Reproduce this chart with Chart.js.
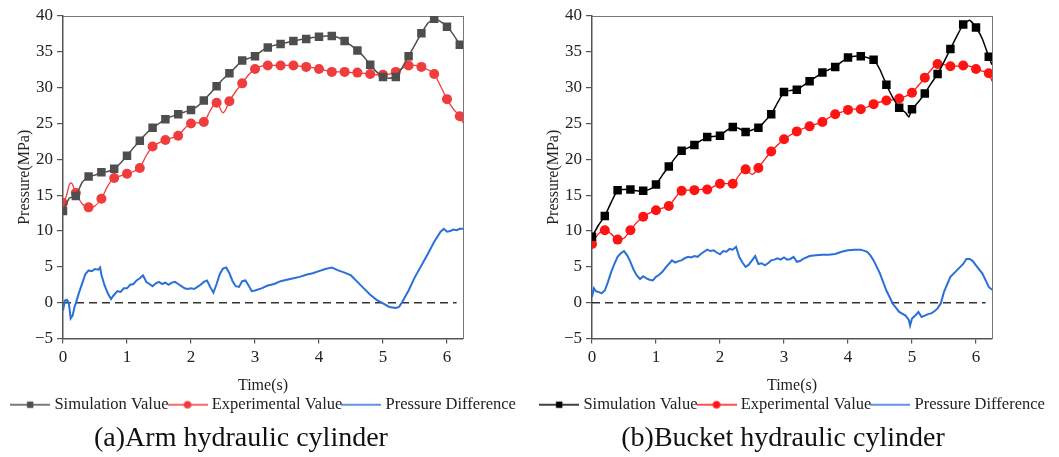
<!DOCTYPE html>
<html><head><meta charset="utf-8">
<script src="https://cdn.jsdelivr.net/npm/chart.js@4"></script>
<style>
html,body{margin:0;padding:0;background:#fff;}
#wrap{position:relative;width:1059px;height:457px;overflow:hidden;}
.cv{position:absolute;top:0;}
.cap{position:absolute;top:420px;width:420px;text-align:center;font-family:"Liberation Serif",serif;font-size:28px;line-height:34px;color:#111;}
</style></head>
<body><div id="wrap">
<canvas id="cA" class="cv" width="530" height="423" style="left:0px"></canvas>
<canvas id="cB" class="cv" width="530" height="423" style="left:529px"></canvas>
<div class="cap" style="left:31px">(a)Arm hydraulic cylinder</div>
<div class="cap" style="left:573px">(b)Bucket hydraulic cylinder</div>
</div>
<script>
// ---------- (a) Arm hydraulic cylinder ----------
const armSimTime = [0,0.1,0.2,0.3,0.4,0.5,0.6,0.7,0.8,0.9,1.0,1.1,1.2,1.3,1.4,1.5,1.6,1.7,1.8,1.9,2.0,2.1,2.2,2.3,2.4,2.5,2.6,2.7,2.8,2.9,3.0,3.1,3.2,3.3,3.4,3.5,3.6,3.7,3.8,3.9,4.0,4.1,4.2,4.3,4.4,4.5,4.6,4.7,4.8,4.9,5.0,5.1,5.2,5.3,5.4,5.5,5.6,5.7,5.8,5.9,6.0,6.1,6.2,6.25];
const armSimValue = [12.8,14.6,14.9,16.8,17.6,17.8,18.2,18.3,18.7,19.5,20.5,21.6,22.6,23.6,24.4,25.0,25.6,26.0,26.3,26.6,26.9,27.4,28.2,29.2,30.2,31.2,32.0,32.9,33.8,34.1,34.4,35.1,35.6,35.9,36.1,36.3,36.5,36.7,36.8,37.0,37.1,37.2,37.2,37.0,36.5,35.9,35.2,34.3,33.2,32.2,31.5,31.3,31.5,32.8,34.4,36.0,37.6,39.0,39.6,39.2,38.5,37.4,36.0,35.6];
const armExpTime = [0,0.05,0.1,0.13,0.2,0.3,0.4,0.5,0.6,0.7,0.8,0.9,1.0,1.1,1.2,1.3,1.4,1.5,1.6,1.7,1.8,1.9,2.0,2.1,2.2,2.3,2.4,2.5,2.6,2.7,2.8,2.9,3.0,3.1,3.2,3.3,3.4,3.5,3.6,3.7,3.8,3.9,4.0,4.1,4.2,4.3,4.4,4.5,4.6,4.7,4.8,4.9,5.0,5.1,5.2,5.3,5.4,5.5,5.6,5.7,5.8,5.9,6.0,6.1,6.2,6.25];
const armExpValue = [13.9,14.8,16.5,16.7,15.3,13.8,13.3,13.5,14.5,16.3,17.4,17.7,18.0,18.3,18.8,20.5,21.8,22.3,22.7,23.0,23.3,24.3,25.0,25.1,25.2,26.8,27.9,26.5,28.1,29.5,30.6,31.8,32.6,33.0,33.1,33.1,33.1,33.1,33.1,33.0,32.9,32.8,32.6,32.4,32.2,32.2,32.2,32.1,32.1,32.0,31.9,31.8,31.8,31.9,32.2,32.7,33.1,33.1,32.9,32.5,31.9,30.2,28.4,27.0,26.0,25.1];
const armDiffTime = [0,0.03,0.06,0.09,0.12,0.15,0.18,0.2,0.25,0.3,0.35,0.4,0.45,0.5,0.55,0.58,0.6,0.65,0.7,0.75,0.78,0.8,0.85,0.9,0.95,1.0,1.05,1.1,1.15,1.2,1.25,1.28,1.3,1.35,1.4,1.45,1.5,1.55,1.6,1.65,1.7,1.75,1.8,1.85,1.9,1.95,2.0,2.05,2.1,2.15,2.2,2.25,2.3,2.35,2.4,2.45,2.5,2.55,2.6,2.65,2.7,2.75,2.8,2.85,2.9,2.95,3.0,3.1,3.2,3.3,3.4,3.5,3.6,3.7,3.8,3.9,4.0,4.1,4.2,4.3,4.4,4.5,4.6,4.7,4.8,4.9,5.0,5.1,5.2,5.25,5.3,5.4,5.5,5.6,5.7,5.8,5.9,5.95,6.0,6.05,6.1,6.15,6.2,6.25];
const armDiffValue = [-1.1,0.3,0.4,0.0,-2.2,-1.8,-0.6,-0.1,1.4,2.7,4.0,4.5,4.4,4.7,4.6,4.9,3.9,2.4,1.3,0.5,0.9,1.1,1.6,1.5,2.0,2.0,2.5,2.6,3.1,3.4,3.8,3.3,2.9,2.6,2.3,2.7,2.9,2.6,2.8,2.5,2.8,2.9,2.6,2.3,2.0,1.9,2.0,1.9,2.2,2.5,2.9,3.1,2.2,1.4,2.6,4.0,4.75,4.9,4.1,3.0,2.3,2.2,3.0,3.1,2.4,1.6,1.7,2.0,2.4,2.6,3.0,3.2,3.4,3.6,3.9,4.1,4.4,4.7,4.9,4.5,4.2,3.8,2.9,2.0,1.1,0.4,-0.1,-0.6,-0.75,-0.6,0.1,1.7,3.6,5.2,6.8,8.5,9.9,10.3,9.9,10.0,10.2,10.1,10.3,10.3];

// ---------- (b) Bucket hydraulic cylinder ----------
const bucketSimTime = [0,0.1,0.2,0.3,0.4,0.5,0.6,0.7,0.8,0.9,1.0,1.1,1.2,1.3,1.4,1.5,1.6,1.7,1.8,1.9,2.0,2.1,2.2,2.3,2.4,2.5,2.6,2.7,2.8,2.9,3.0,3.1,3.2,3.3,3.4,3.5,3.6,3.7,3.8,3.9,4.0,4.1,4.2,4.3,4.4,4.5,4.6,4.7,4.8,4.9,4.95,5.0,5.1,5.2,5.3,5.4,5.5,5.6,5.7,5.8,5.9,6.0,6.1,6.2,6.25];
const bucketSimValue = [9.2,10.8,12.1,14.0,15.7,15.8,15.8,15.6,15.6,15.8,16.5,17.8,19.0,20.2,21.2,21.6,22.0,22.6,23.1,23.2,23.3,24.0,24.5,24.3,23.8,24.1,24.4,25.3,26.3,27.9,29.4,29.6,29.7,30.3,30.9,31.5,32.1,32.5,32.9,33.6,34.2,34.4,34.4,34.2,33.9,32.5,30.4,28.6,27.2,26.5,25.9,27.0,28.0,29.2,30.6,31.9,33.6,35.4,37.2,38.8,39.4,38.4,36.8,34.3,33.2];
const bucketExpTime = [0,0.1,0.2,0.3,0.4,0.5,0.6,0.7,0.8,0.9,1.0,1.1,1.2,1.3,1.4,1.5,1.6,1.7,1.8,1.9,2.0,2.1,2.2,2.3,2.4,2.5,2.6,2.7,2.8,2.9,3.0,3.1,3.2,3.3,3.4,3.5,3.6,3.7,3.8,3.9,4.0,4.1,4.2,4.3,4.4,4.5,4.6,4.7,4.8,4.9,5.0,5.1,5.2,5.3,5.4,5.5,5.6,5.7,5.8,5.9,6.0,6.1,6.2,6.25];
const bucketExpValue = [8.2,9.6,10.1,9.6,8.8,9.0,10.1,11.2,12.0,12.5,12.9,13.2,13.5,14.6,15.6,15.7,15.7,15.8,15.8,16.2,16.6,16.6,16.6,17.8,18.6,17.9,18.8,20.0,21.1,22.0,22.8,23.4,23.9,24.3,24.6,24.9,25.2,25.8,26.3,26.6,26.9,27.0,27.0,27.3,27.7,28.0,28.2,28.3,28.5,28.8,29.3,30.3,31.4,32.5,33.3,33.2,33.0,33.0,33.1,33.0,32.6,32.3,32.0,30.9];
const bucketDiffTime = [0,0.03,0.06,0.1,0.15,0.2,0.25,0.3,0.35,0.4,0.45,0.5,0.55,0.6,0.65,0.7,0.75,0.8,0.85,0.9,0.95,1.0,1.05,1.1,1.15,1.2,1.25,1.3,1.35,1.4,1.45,1.5,1.55,1.6,1.65,1.7,1.75,1.8,1.85,1.9,1.95,2.0,2.05,2.1,2.15,2.2,2.25,2.3,2.35,2.4,2.45,2.5,2.55,2.6,2.65,2.7,2.75,2.8,2.85,2.9,2.95,3.0,3.05,3.1,3.15,3.2,3.25,3.3,3.4,3.5,3.6,3.7,3.8,3.9,4.0,4.1,4.2,4.3,4.35,4.4,4.5,4.6,4.7,4.8,4.9,4.95,4.97,5.0,5.05,5.1,5.15,5.2,5.25,5.3,5.35,5.4,5.45,5.5,5.6,5.7,5.8,5.85,5.9,5.95,6.0,6.1,6.2,6.25];
const bucketDiffValue = [0.8,2.0,1.6,1.5,1.3,1.7,2.9,4.3,5.4,6.4,6.9,7.2,6.6,5.7,4.6,3.8,3.3,3.7,3.4,3.2,3.1,3.6,3.9,4.3,4.9,5.4,5.9,5.6,5.8,5.9,6.2,6.4,6.3,6.5,6.4,6.8,7.1,7.4,7.2,7.3,7.0,6.75,7.2,7.1,7.5,7.4,7.8,6.4,5.6,5.0,5.3,5.9,6.5,5.4,5.5,5.2,5.5,5.9,6.0,6.2,6.0,6.3,6.0,6.1,6.4,5.7,5.8,6.1,6.5,6.6,6.7,6.7,6.8,7.1,7.3,7.4,7.4,7.1,6.6,5.9,4.05,1.7,-0.15,-1.3,-1.8,-2.4,-3.2,-2.2,-1.8,-1.3,-2.0,-1.8,-1.6,-1.5,-1.2,-0.8,-0.1,1.5,3.6,4.5,5.4,6.1,6.1,5.8,5.2,4.05,2.2,1.8];

// ---------- shared ----------
const zeroLineTime = [0, 6.15];
const zeroLineValue = [0, 0];
const yTickMin = -5, yTickMax = 40, yTickStep = 5;
const xTickMin = 0, xTickMax = 6.25, xTickStep = 1;
const legendNames = ['Simulation Value', 'Experimental Value', 'Pressure Difference'];

const FONT = '"Liberation Serif", "Times New Roman", serif';
Chart.defaults.font.family = FONT;
Chart.defaults.color = '#222';

function pts(t, v){ return t.map((x,i)=>({x:x, y:v[i]})); }
function isMarker(x){ return Math.abs(x*5 - Math.round(x*5)) < 0.01; }

function legendIcon(color, style, r){
  const c = document.createElement('canvas');
  c.width = 40; c.height = 12;
  const g = c.getContext('2d');
  g.strokeStyle = color; g.lineWidth = 1.6;
  g.beginPath(); g.moveTo(0,6); g.lineTo(40,6); g.stroke();
  g.fillStyle = color;
  if (style === 'rect'){ g.fillRect(20-r, 6-r, 2*r, 2*r); }
  else if (style === 'circle'){ g.beginPath(); g.arc(20,6,r,0,Math.PI*2); g.fill(); }
  return c;
}

function makeChart(id, simT, simV, expT, expV, difT, difV, simColor, expColor, diffColor){
  const icons = [legendIcon(simColor,'rect',3.2), legendIcon(expColor,'circle',3.8), legendIcon(diffColor,'none',0)];
  return new Chart(document.getElementById(id), {
    type: 'line',
    data: { datasets: [
      { label: legendNames[0], data: pts(simT, simV), borderColor: simColor, backgroundColor: simColor,
        borderWidth: 1.5, pointStyle: 'rect', pointRadius: c => isMarker(c.raw.x) ? 6 : 0,
        pointBorderWidth: 0, tension: 0.15 },
      { label: legendNames[1], data: pts(expT, expV), borderColor: expColor, backgroundColor: expColor,
        borderWidth: 1.3, pointStyle: 'circle', pointRadius: c => isMarker(c.raw.x) ? 5 : 0,
        pointBorderWidth: 0, cubicInterpolationMode: 'monotone' },
      { label: legendNames[2], data: pts(difT, difV), borderColor: diffColor, backgroundColor: diffColor,
        borderWidth: 2, pointRadius: 0, tension: 0 },
      { label: 'zero', data: pts(zeroLineTime, zeroLineValue), borderColor: '#333', borderWidth: 1.5,
        borderDash: [8,5], pointRadius: 0 }
    ]},
    options: {
      responsive: false, animation: false, devicePixelRatio: 1,
      layout: { padding: { top: 0, left: 0, right: 0, bottom: 0 } },
      plugins: {
        tooltip: { enabled: false },
        legend: { position: 'bottom', fullSize: true,
          labels: { usePointStyle: true, pointStyleWidth: 32, padding: 3,
            font: { size: 16.5, family: FONT }, color: '#222',
            filter: it => it.datasetIndex < 3,
            generateLabels: ch => ch.data.datasets.slice(0,3).map((d,i)=>({
              text: d.label, pointStyle: icons[i], datasetIndex: i, hidden: false,
              fillStyle: d.borderColor, strokeStyle: d.borderColor, lineWidth: 0, fontColor: '#222'
            }))
          }
        }
      },
      scales: {
        x: { type: 'linear', position: 'bottom', min: xTickMin, max: xTickMax,
          afterFit: s => { s.height = 55; },
          ticks: { stepSize: xTickStep, includeBounds: false, padding: 4, font: { size: 17 }, color: '#222', maxRotation: 0 },
          grid: { display: true, drawOnChartArea: false, drawTicks: true, tickLength: 5, color: '#555', lineWidth: 1.2 },
          border: { display: true, color: '#555', width: 1.5 },
          title: { display: true, text: 'Time(s)', font: { size: 16, lineHeight: 1.0 }, color: '#222', padding: { top: 0, bottom: 0 } }
        },
        x2: { type: 'linear', position: 'top', min: xTickMin, max: xTickMax,
          afterFit: s => { s.height = 16; },
          ticks: { display: false }, grid: { display: false },
          border: { display: true, color: '#777', width: 1 }
        },
        y: { type: 'linear', position: 'left', min: yTickMin, max: yTickMax,
          afterFit: s => { s.width = 63; },
          ticks: { stepSize: yTickStep, padding: 4, font: { size: 17 }, color: '#222',
            callback: v => String(v).replace('-', '\u2212') },
          grid: { display: true, drawOnChartArea: false, drawTicks: true, tickLength: 6, color: '#555', lineWidth: 1.2 },
          border: { display: true, color: '#555', width: 1.5 },
          title: { display: true, text: 'Pressure(MPa)', font: { size: 16, lineHeight: 1.0 }, color: '#222', padding: { top: 17, bottom: 0 } }
        },
        y2: { type: 'linear', position: 'right', min: yTickMin, max: yTickMax,
          afterFit: s => { s.width = 67; },
          ticks: { display: false }, grid: { display: false },
          border: { display: true, color: '#777', width: 1 }
        }
      }
    }
  });
}

makeChart('cA', armSimTime, armSimValue, armExpTime, armExpValue, armDiffTime, armDiffValue, '#4e4e4e', '#f03c3c', '#2b6fd9');
makeChart('cB', bucketSimTime, bucketSimValue, bucketExpTime, bucketExpValue, bucketDiffTime, bucketDiffValue, '#000000', '#ff1414', '#2b6fd9');
</script>
</body></html>
